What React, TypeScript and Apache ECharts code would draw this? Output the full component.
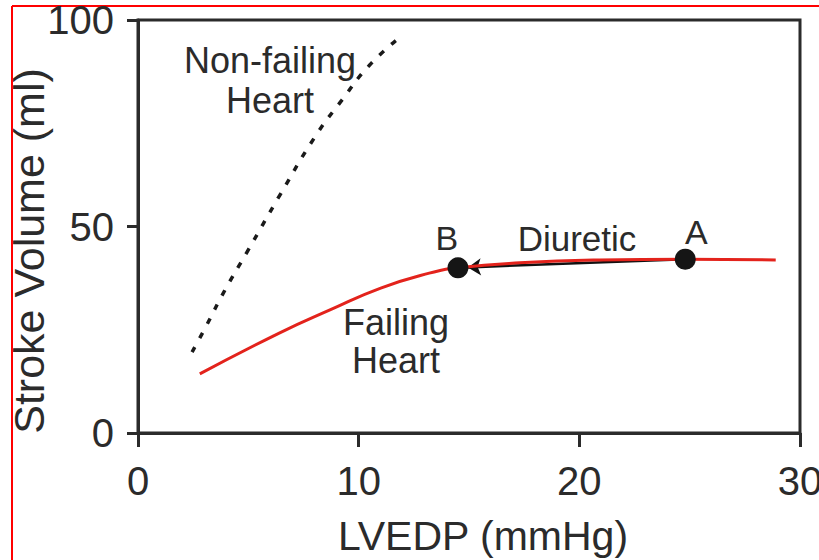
import React, { useEffect, useRef } from "react";
import * as echarts from "echarts";

const xTicks = [0, 10, 20, 30];
const yTicks = [0, 50, 100];
const failingHeart: [number, number][] = [
  [2.8, 14.3], [6.4, 24.2], [8.7, 29.8], [11.0, 35.1], [13.2, 38.7],
  [14.5, 40.0], [17.3, 41.2], [20.9, 41.9], [24.8, 42.1], [28.9, 41.9],
];
const nonFailingHeart: [number, number][] = [
  [2.45, 19.6], [3.04, 25.4], [3.94, 34.6], [4.94, 43.8], [6.43, 57.6],
  [8.02, 71.7], [9.24, 80.6], [10.5, 89.1], [12.0, 96.4],
];
const pointNames = ["B", "A"];
const pointValues: [number, number][] = [[14.5, 40.0], [24.8, 42.1]];
const diureticArrow: [number, number][] = [[24.8, 42.1], [14.95, 40.1]];

const FONT = "'Liberation Sans', Arial, Helvetica, sans-serif";
const TXT = "#2b2b2b";

export default function App() {
  const ref = useRef<HTMLDivElement>(null);
  useEffect(() => {
    if (!ref.current) return;
    const chart = echarts.init(ref.current, undefined, { renderer: "svg" });
    chart.setOption({
      animation: false,
      backgroundColor: "#ffffff",
      textStyle: { fontFamily: FONT, color: TXT },
      grid: {
        left: 138, top: 20, right: 19, bottom: 127,
        containLabel: false, outerBoundsMode: "none",
        show: true, borderColor: "#2b2b2b", borderWidth: 3,
      },
      xAxis: {
        type: "value", min: xTicks[0], max: xTicks[xTicks.length - 1], interval: 10,
        name: "LVEDP (mmHg)", nameLocation: "middle", nameGap: 82,
        nameTextStyle: { fontSize: 41, color: TXT, fontFamily: FONT, padding: [0, 0, 0, 28] },
        axisLine: { show: true, lineStyle: { color: "#2b2b2b", width: 3 } },
        axisTick: { show: true, length: 14, lineStyle: { color: "#2b2b2b", width: 3 } },
        axisLabel: { fontSize: 40, color: TXT, margin: 28, fontFamily: FONT, showMaxLabel: true },
        splitLine: { show: false },
      },
      yAxis: {
        type: "value", min: yTicks[0], max: yTicks[yTicks.length - 1], interval: 50,
        axisLine: { show: true, lineStyle: { color: "#2b2b2b", width: 3 } },
        axisTick: { show: true, length: 11, lineStyle: { color: "#2b2b2b", width: 3 } },
        axisLabel: { fontSize: 40, color: TXT, margin: 24, fontFamily: FONT },
        splitLine: { show: false },
      },
      series: [
        {
          type: "line", data: nonFailingHeart, smooth: true, symbol: "none",
          lineStyle: { color: "#1a1a1a", width: 3.5, type: [6, 10], cap: "butt" },
        },
        {
          type: "line", data: failingHeart, smooth: true, symbol: "none",
          lineStyle: { color: "#e3231c", width: 3 },
        },
        {
          type: "lines", coordinateSystem: "cartesian2d",
          symbol: ["none", "arrow"], symbolSize: [9, 13],
          lineStyle: { color: "#111111", width: 2.5, opacity: 1 },
          data: [{ coords: diureticArrow }],
          z: 3,
        },
        {
          type: "scatter", symbol: "circle", symbolSize: 21, z: 4,
          itemStyle: { color: "#151515", opacity: 1 },
          data: pointValues.map((v, i) => ({
            value: v, name: pointNames[i],
            label: {
              show: true, formatter: "{b}", position: "inside",
              offset: i === 0 ? [-11, -30] : [11, -27],
              fontSize: 34, color: TXT, fontFamily: FONT,
            },
          })),
        },
      ],
      graphic: [
        { type: "line", shape: { x1: 12, y1: 6, x2: 819, y2: 6 }, style: { stroke: "#ff0000", lineWidth: 2 } },
        { type: "line", shape: { x1: 12, y1: 6, x2: 12, y2: 560 }, style: { stroke: "#ff0000", lineWidth: 2 } },
        {
          type: "text", x: 29, y: 251, rotation: Math.PI / 2,
          style: { text: "Stroke Volume (ml)", fill: TXT, font: `43px ${FONT}`, align: "center", verticalAlign: "middle" },
        },
        {
          type: "text", x: 270, y: 80,
          style: { text: "Non-failing\nHeart", lineHeight: 40, fill: TXT, font: `36px ${FONT}`, align: "center", verticalAlign: "middle" },
        },
        {
          type: "text", x: 396, y: 341,
          style: { text: "Failing\nHeart", lineHeight: 38, fill: TXT, font: `36px ${FONT}`, align: "center", verticalAlign: "middle" },
        },
        {
          type: "text", x: 577, y: 238,
          style: { text: "Diuretic", fill: TXT, font: `35px ${FONT}`, align: "center", verticalAlign: "middle" },
        },
      ],
    });
    return () => chart.dispose();
  }, []);
  return <div ref={ref} style={{ position: "absolute", left: 0, top: 0, width: 819, height: 560 }} />;
}
